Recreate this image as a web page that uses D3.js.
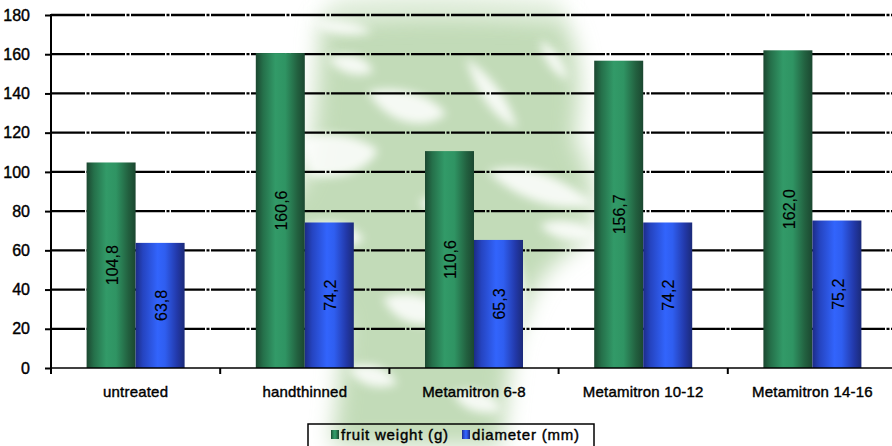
<!DOCTYPE html>
<html>
<head>
<meta charset="utf-8">
<script src="https://cdn.jsdelivr.net/npm/d3@7"></script>
<style>
  html, body { margin: 0; padding: 0; background: #fff; }
  svg { display: block; }
  text { font-family: "Liberation Sans", Arial, sans-serif; }
</style>
</head>
<body>
<svg id="chart" width="892" height="446"></svg>
<script>
// Treatments along the x axis
const categories = ["untreated", "handthinned", "Metamitron 6-8", "Metamitron 10-12", "Metamitron 14-16"];
// Series names
const seriesNames = ["fruit weight (g)", "diameter (mm)"];
// Values per series, one per treatment
const fruitWeight = [104.8, 160.6, 110.6, 156.7, 162.0];
const diameter = [63.8, 74.2, 65.3, 74.2, 75.2];
// Y axis ticks
const yTicks = [0, 20, 40, 60, 80, 100, 120, 140, 160, 180];

const W = 892, H = 446;
const plot = { left: 51, right: 897, top: 15, bottom: 368 };

const svg = d3.select("#chart");
const defs = svg.append("defs");

function blurFilter(id, sd) {
  defs.append("filter").attr("id", id)
    .attr("filterUnits", "userSpaceOnUse")
    .attr("x", 0).attr("y", -50).attr("width", W).attr("height", H + 100)
    .append("feGaussianBlur").attr("stdDeviation", sd);
}
blurFilter("blurWide", 11);
blurFilter("blurMid", 5);

// Pale leaf backdrop behind the plot
const leaf = svg.append("g").attr("class", "backdrop");
leaf.append("g").attr("filter", "url(#blurWide)").attr("fill", "#c2dbb8")
  .selectAll("path")
  .data([
    // upper crown
    "M322,18 C370,8 460,6 560,16 C585,50 580,100 575,140 C595,170 600,215 580,245 C550,262 528,290 520,330 L350,330 C330,300 300,280 280,255 C268,225 285,200 300,185 C318,150 315,80 322,18 Z",
    // lower stem
    "M345,300 C390,290 470,290 520,300 C512,350 505,400 502,446 L332,446 C338,400 342,350 345,300 Z"
  ])
  .join("path").attr("d", d => d);

// Lighter upper fringe
leaf.append("path").attr("filter", "url(#blurWide)").attr("fill", "#dcebd6")
  .attr("d", "M330,2 C400,-4 480,-2 560,4 L560,20 C480,16 400,16 330,22 Z");

// White streaks across the leaf
leaf.append("g").attr("filter", "url(#blurMid)").attr("fill", "#ffffff").attr("opacity", 0.85)
  .selectAll("path")
  .data([
    "M312,22 C335,18 360,22 372,32 C350,38 325,34 312,22 Z",
    "M368,92 C395,84 432,94 446,114 C428,130 390,128 368,92 Z",
    "M300,140 C325,128 360,136 378,150 C368,172 338,180 310,176 Z",
    "M466,58 C490,74 510,100 517,128 C496,120 476,95 466,58 Z",
    "M488,172 C520,160 562,176 594,204 C560,214 518,200 488,172 Z",
    "M540,225 C560,215 585,222 595,235 C575,245 552,240 540,225 Z",
    "M512,248 C532,280 526,322 508,352 C497,316 499,280 512,248 Z",
    "M290,232 C320,216 352,220 364,240 C338,254 308,252 290,232 Z",
    "M383,298 C410,288 440,298 450,318 C424,330 396,326 383,298 Z",
    "M348,368 C370,360 390,368 397,384 C378,391 358,386 348,368 Z",
    "M453,393 C475,386 496,394 501,410 C482,417 462,411 453,393 Z",
    "M328,58 C350,50 369,58 373,72 C355,79 337,72 328,58 Z",
    "M420,200 C440,194 458,202 462,216 C444,222 426,216 420,200 Z",
    "M540,40 C556,48 566,64 568,80 C552,74 542,58 540,40 Z"
  ])
  .join("path").attr("d", d => d);

// Scales
const y = d3.scaleLinear().domain([0, 180]).range([plot.bottom, plot.top]);
const x0 = d3.scaleBand().domain(categories).range([plot.left, plot.right]).padding(0);
const innerW = 98;
const x1 = d3.scaleBand().domain(seriesNames)
  .range([(x0.bandwidth() - innerW) / 2, (x0.bandwidth() + innerW) / 2]).padding(0);

// Cylindrical shading for the bars
function shade(id, stops) {
  const g = defs.append("linearGradient").attr("id", id).attr("x1", "0%").attr("x2", "100%").attr("y1", "0%").attr("y2", "0%");
  stops.forEach(([o, c]) => g.append("stop").attr("offset", o).attr("stop-color", c));
}
shade("gGreen", [["0%", "#1b4730"], ["15%", "#25704a"], ["40%", "#329a68"], ["60%", "#2f9463"], ["85%", "#22603f"], ["100%", "#1b4730"]]);
shade("gBlue", [["0%", "#1c2c86"], ["15%", "#2544c0"], ["45%", "#3264fc"], ["60%", "#2f5ef0"], ["85%", "#2238a8"], ["100%", "#1b2a78"]]);
const fills = { "fruit weight (g)": "url(#gGreen)", "diameter (mm)": "url(#gBlue)" };

// Gridlines
svg.append("g").selectAll("line")
  .data(yTicks.filter(t => t > 0))
  .join("line")
  .attr("x1", plot.left).attr("x2", W)
  .attr("y1", d => y(d)).attr("y2", d => y(d))
  .attr("stroke", "#000").attr("stroke-width", d => d === 180 ? 2.6 : 2.2)
  .attr("stroke-dasharray", "34,1.5,3,1.5");

// Bars
const rows = categories.map((c, i) => ({ cat: c, vals: [
  { s: seriesNames[0], v: fruitWeight[i] },
  { s: seriesNames[1], v: diameter[i] }
]}));

const groups = svg.append("g").selectAll("g")
  .data(rows).join("g")
  .attr("transform", d => `translate(${x0(d.cat)},0)`);

groups.selectAll("rect")
  .data(d => d.vals).join("rect")
  .attr("x", d => x1(d.s))
  .attr("width", x1.bandwidth())
  .attr("y", d => y(d.v))
  .attr("height", d => y(0) - y(d.v))
  .attr("fill", d => fills[d.s]);

// Value labels, written vertically in the middle of each bar
const fmt = v => v.toFixed(1).replace(".", ",");
groups.selectAll("text.val")
  .data(d => d.vals).join("text")
  .attr("class", "val")
  .attr("transform", d => `translate(${x1(d.s) + x1.bandwidth() / 2 + 1},${(y(d.v) + y(0)) / 2}) rotate(-90)`)
  .attr("text-anchor", "middle")
  .attr("dy", "0.36em")
  .attr("font-size", 16)
  .attr("fill", "#000")
  .attr("stroke", "#000").attr("stroke-width", 0.15)
  .text(d => fmt(d.v));

const heavy = sel => sel.attr("fill", "#000").attr("stroke", "#000").attr("stroke-width", 0.4)
  .attr("font-family", "'Liberation Sans', Arial, sans-serif");

// Y axis
const yAxis = svg.append("g").attr("transform", `translate(${plot.left},0)`)
  .call(d3.axisLeft(y).tickValues(yTicks).tickSize(6).tickPadding(15));
yAxis.select(".domain").attr("stroke", "#000").attr("stroke-width", 2).attr("d", `M0,${plot.top - 1}V${plot.bottom}`);
yAxis.selectAll(".tick line").attr("stroke", "#000").attr("stroke-width", 2);
yAxis.selectAll(".tick text").attr("font-size", 16).call(heavy);

// X axis
const xAxis = svg.append("g").attr("transform", `translate(0,${plot.bottom})`)
  .call(d3.axisBottom(x0).tickSize(0).tickPadding(18));
xAxis.select(".domain").attr("stroke", "#000").attr("stroke-width", 1.5).attr("d", `M${plot.left},0H${W}`);
xAxis.selectAll(".tick text").attr("font-size", 15).attr("letter-spacing", 0.2).call(heavy);
// Separators between treatments
xAxis.append("g").selectAll("line")
  .data(categories)
  .join("line")
  .attr("x1", d => x0(d)).attr("x2", d => x0(d))
  .attr("y1", 0).attr("y2", 6)
  .attr("stroke", "#000").attr("stroke-width", 2);

// Legend
const lg = svg.append("g").attr("transform", "translate(308,424)");
lg.append("rect").attr("x", 0).attr("y", 0).attr("width", 286).attr("height", 30)
  .attr("fill", "none").attr("stroke", "#000").attr("stroke-width", 1.5);
const items = lg.selectAll("g.item").data(seriesNames).join("g")
  .attr("class", "item")
  .attr("transform", (d, i) => `translate(${i === 0 ? 23 : 154},0)`);
items.append("rect").attr("x", 0).attr("y", 6).attr("width", 8).attr("height", 9)
  .attr("fill", d => fills[d]);
items.append("text").attr("x", 10).attr("y", 16)
  .attr("font-size", 15).attr("letter-spacing", 0.8)
  .call(heavy).text(d => d);
</script>
</body>
</html>
